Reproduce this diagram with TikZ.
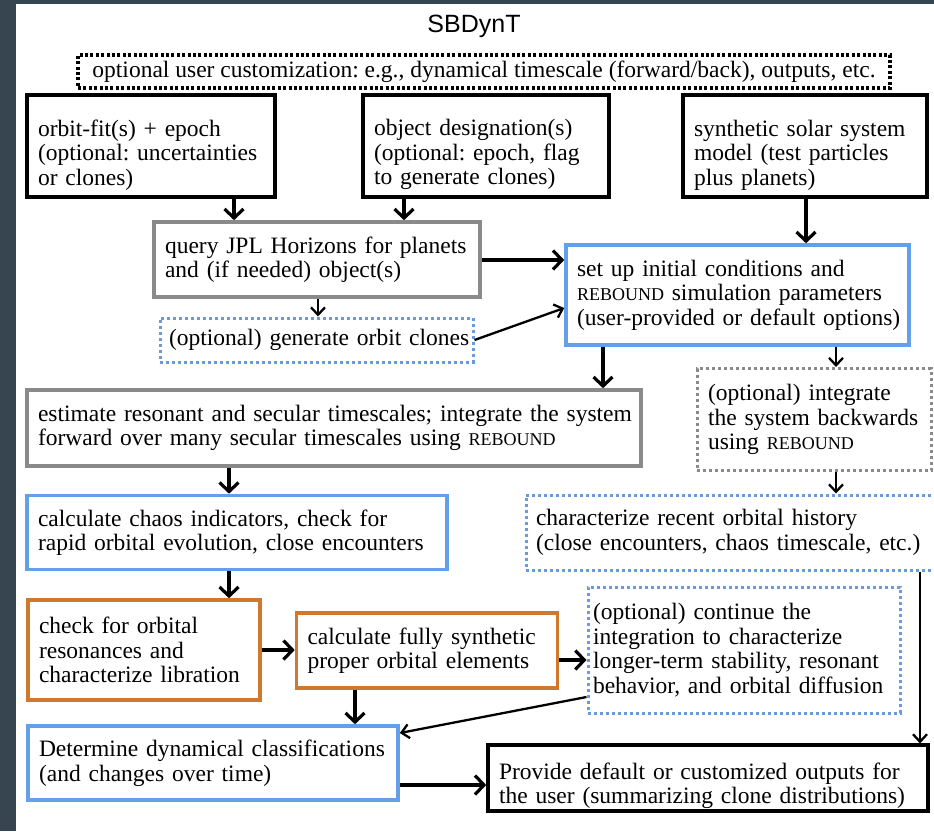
\documentclass[tikz,border=0pt]{standalone}
\usepackage{fontspec}
\setmainfont{Liberation Serif}
\newfontfamily\titlefont{Liberation Sans}
\usetikzlibrary{arrows.meta}
\frenchspacing
\definecolor{darkstrip}{RGB}{54,69,79}
\definecolor{boxgray}{RGB}{138,138,138}
\definecolor{boxblue}{RGB}{100,160,232}
\definecolor{dotblue}{RGB}{104,154,222}
\definecolor{boxorange}{RGB}{208,120,46}
\newcommand{\rbd}{{\fontsize{18}{18}\selectfont REBOUND}}
\newcommand{\lm}[1]{\mbox{#1}}
\newcommand{\dn}[1]{\rule{0pt}{#1}}
\tikzset{
  bx/.style={rectangle, line width=3.6pt, inner xsep=11pt, inner ysep=2pt, align=left, fill=white,
    font=\fontsize{23.5}{24.5}\selectfont},
  blackbox/.style={bx, draw=black},
  graybox/.style={bx, draw=boxgray},
  bluebox/.style={bx, draw=boxblue},
  orangebox/.style={bx, draw=boxorange},
  bluedot/.style={bx, draw=dotblue, line width=3pt, dash pattern=on 3pt off 3pt},
  graydot/.style={bx, draw=boxgray, line width=3pt, dash pattern=on 3pt off 3pt},
  arr/.style={line width=3.2pt, -{Straight Barb[length=9pt,width=19pt]}},
  arrs/.style={line width=2.3pt, -{Straight Barb[length=7.5pt,width=14pt]}},
}
\begin{document}
\begin{tikzpicture}[x=1pt,y=-1pt]
\useasboundingbox (0,0) rectangle (934,831);
\fill[white] (0,0) rectangle (934,831);
\fill[darkstrip] (0,0) rectangle (16,831);
\fill[darkstrip] (0,0) rectangle (934,4);

\node[font=\titlefont\fontsize{25}{25}\selectfont] (title) at (474,26) {SBDynT};
\node[bx, draw=black, line width=3.5pt, dash pattern=on 3pt off 2.4pt, minimum width=812pt, minimum height=33pt, inner xsep=0pt, align=center] (opt) at (484,71.5)
  {\lm{optional user customization: e.g., dynamical timescale (forward/back), outputs, etc.}};

\node[blackbox, text width=226pt, minimum height=102pt] (fit) at (151,146)
  {\dn{34pt}\lm{orbit-fit(s) + epoch}\\\lm{(optional: uncertainties}\\\lm{or clones)}};
\node[blackbox, text width=224pt, minimum height=102pt] (des) at (486,146)
  {\dn{34pt}\lm{object designation(s)}\\\lm{(optional: epoch, flag}\\\lm{to generate clones)}};
\node[blackbox, text width=222pt, minimum height=102pt] (syn) at (805,146)
  {\dn{34pt}\lm{synthetic solar system}\\\lm{model (test particles}\\\lm{plus planets)}};

\node[graybox, text width=304pt, minimum height=75pt] (qry) at (317,259.5)
  {\lm{query JPL Horizons for planets}\\\lm{and (if needed) object(s)}};
\node[bluebox, text width=321pt, minimum height=100pt] (set) at (737.5,295)
  {\lm{set up initial conditions and}\\\lm{\rbd{} simulation parameters}\\\lm{(user-provided or default options)}};
\node[bluedot, text width=295pt, minimum height=44pt, inner xsep=9pt] (cln) at (316.5,340)
  {\lm{(optional) generate orbit clones}};

\node[graybox, text width=592pt, minimum height=76pt] (est) at (334,428)
  {\lm{estimate resonant and secular timescales; integrate the system}\\\lm{forward over many secular timescales using \rbd}};
\node[graydot, text width=212pt, minimum height=102pt] (bwd) at (814,419.5)
  {\lm{(optional) integrate}\\\lm{the system backwards}\\\lm{using \rbd}};

\node[bluebox, text width=398pt, minimum height=74pt] (chs) at (237,532.5)
  {\lm{calculate chaos indicators, check for}\\\lm{rapid orbital evolution, close encounters}};
\node[bluedot, text width=391pt, minimum height=75pt, inner xsep=10pt] (his) at (731.5,532.5)
  {\lm{characterize recent orbital history}\\\lm{(close encounters, chaos timescale, etc.)}};

\node[orangebox, text width=210pt, minimum height=100pt] (res) at (144,650)
  {\lm{check for orbital}\\\lm{resonances and}\\\lm{characterize libration}};
\node[orangebox, text width=239pt, minimum height=75pt] (prp) at (427,650.5)
  {\lm{calculate fully synthetic}\\\lm{proper orbital elements}};
\node[bluedot, text width=302pt, minimum height=126pt, inner xsep=5pt] (cnt) at (744,650)
  {\lm{(optional) continue the}\\\lm{integration to characterize}\\\lm{longer-term stability, resonant}\\\lm{behavior, and orbital diffusion}};

\node[bluebox, text width=348pt, minimum height=74pt] (cls) at (213,763)
  {\lm{Determine dynamical classifications}\\\lm{(and changes over time)}};
\node[blackbox, text width=418pt, minimum height=64pt] (out) at (708,778)
  {\dn{32pt}\lm{Provide default or customized outputs for}\\\lm{the user (summarizing clone distributions)}};

% x / y guide coordinates for connectors
\coordinate (xa) at (234,0);
\coordinate (xb) at (404,0);
\coordinate (xc) at (806,0);
\coordinate (xd) at (318,0);
\coordinate (xe) at (603,0);
\coordinate (xf) at (836,0);
\coordinate (xg) at (229,0);
\coordinate (xh) at (355,0);
\coordinate (xi) at (920,0);
\coordinate (ya) at (0,260);
\coordinate (yb) at (0,308);
\coordinate (yc) at (0,650);
\coordinate (yd) at (0,660);
\coordinate (ye) at (0,697);
\coordinate (yf) at (0,733);
\coordinate (yg) at (0,785);

\draw[arr] (fit.south -| xa) -- (qry.north -| xa);
\draw[arr] (des.south -| xb) -- (qry.north -| xb);
\draw[arr] (syn.south -| xc) -- (set.north -| xc);
\draw[arr] (qry.east |- ya) -- (set.west |- ya);
\draw[arrs] (qry.south -| xd) -- (cln.north -| xd);
\draw[arrs] (cln.east) -- (set.west |- yb);
\draw[arr] (set.south -| xe) -- (est.north -| xe);
\draw[arrs] (set.south -| xf) -- (bwd.north -| xf);
\draw[arrs] (bwd.south -| xf) -- (his.north -| xf);
\draw[arr] (est.south -| xg) -- (chs.north -| xg);
\draw[arr] (chs.south -| xg) -- (res.north -| xg);
\draw[arr] (res.east |- yc) -- (prp.west |- yc);
\draw[arr] (prp.east |- yd) -- (cnt.west |- yd);
\draw[arr] (prp.south -| xh) -- (cls.north -| xh);
\draw[arrs] (cnt.west |- ye) -- (cls.east |- yf);
\draw[arr] (cls.east |- yg) -- (out.west |- yg);
\draw[arrs] (his.south -| xi) -- (out.north -| xi);
\end{tikzpicture}
\end{document}
